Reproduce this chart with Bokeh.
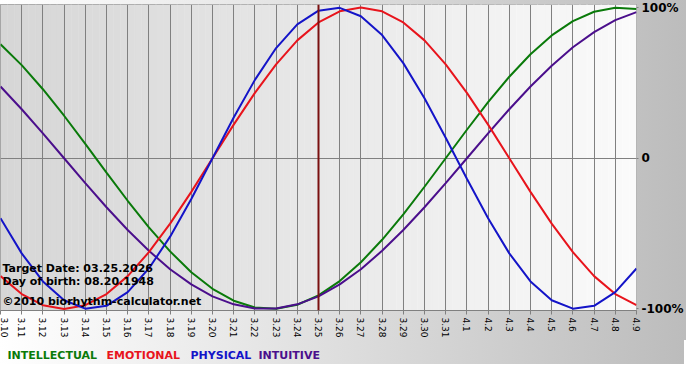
import math
from bokeh.plotting import figure
from bokeh.layouts import column
from bokeh.models import FixedTicker, Label, Span, Range1d
from bokeh.core.properties import value
from bokeh.embed import file_html
from bokeh.resources import INLINE

dates = ["3.10", "3.11", "3.12", "3.13", "3.14", "3.15", "3.16", "3.17", "3.18", "3.19",
         "3.20", "3.21", "3.22", "3.23", "3.24", "3.25", "3.26", "3.27", "3.28", "3.29",
         "3.30", "3.31", "4.1", "4.2", "4.3", "4.4", "4.5", "4.6", "4.7", "4.8", "4.9"]

intellectual = [0.756, 0.618, 0.458, 0.282, 0.095, -0.095, -0.282, -0.458, -0.618, -0.756,
                -0.866, -0.945, -0.990, -0.999, -0.972, -0.910, -0.815, -0.690, -0.541, -0.372,
                -0.189, 0.0, 0.189, 0.372, 0.541, 0.690, 0.815, 0.910, 0.972, 0.999, 0.990]
emotional = [-0.782, -0.901, -0.975, -1.0, -0.975, -0.901, -0.782, -0.623, -0.434, -0.223,
             0.0, 0.223, 0.434, 0.623, 0.782, 0.901, 0.975, 1.0, 0.975, 0.901,
             0.782, 0.623, 0.434, 0.223, 0.0, -0.223, -0.434, -0.623, -0.782, -0.901, -0.975]
physical = [-0.398, -0.631, -0.817, -0.942, -0.998, -0.979, -0.888, -0.731, -0.520, -0.270,
            0.0, 0.270, 0.520, 0.731, 0.888, 0.979, 0.998, 0.942, 0.817, 0.631,
            0.398, 0.136, -0.136, -0.398, -0.631, -0.817, -0.942, -0.998, -0.979, -0.888, -0.731]
intuitive = [0.476, 0.325, 0.165, 0.0, -0.165, -0.325, -0.476, -0.614, -0.736, -0.837,
             -0.916, -0.969, -0.997, -0.997, -0.969, -0.916, -0.837, -0.736, -0.614, -0.476,
             -0.325, -0.165, 0.0, 0.165, 0.325, 0.476, 0.614, 0.736, 0.837, 0.916, 0.969]

y_ticks = [-1, 0, 1]
y_labels = ["-100%", "0", "100%"]
target_date = "3.25"
info_lines = ["Target Date: 03.25.2026", "Day of birth: 08.20.1948", "\u00a92010 biorhythm-calculator.net"]
series_names = ["INTELLECTUAL", "EMOTIONAL", "PHYSICAL", "INTUITIVE"]
colors = ["#0a7a0a", "#e8141c", "#1414c8", "#4b0f8c"]

GRAD = {"background": "linear-gradient(to right, #ffffff 0%, #bcbcbc 100%)"}

x = list(range(len(dates)))
n = len(dates) - 1

p = figure(frame_width=636, frame_height=306, x_range=Range1d(0, n), y_range=Range1d(-1.01, 1.02),
           output_backend="svg", toolbar_location=None, y_axis_location="right",
           min_border_left=0, min_border_top=4, min_border_right=48, min_border_bottom=30)
p.border_fill_alpha = 0
p.styles = GRAD
p.outline_line_color = "#808080"

# background gradient strips inside the frame (drawn below the grid)
N = 90
lefts, rights, cols = [], [], []
for k in range(N):
    f = k / (N - 1)
    c = int(round(214 + (250 - 214) * f))
    lefts.append(n * k / N)
    rights.append(n * (k + 1) / N)
    cols.append("#%02x%02x%02x" % (c, c, c))
bg = p.quad(left=lefts, right=rights, bottom=-2, top=2, fill_color=cols, line_color=cols, line_width=0.5)
bg.level = "image"

# axes
xa = p.xaxis[0]
xa.ticker = FixedTicker(ticks=x)
xa.major_label_overrides = {i: d for i, d in enumerate(dates)}
xa.major_label_orientation = -math.pi / 2
xa.major_label_text_font = "DejaVu Sans"
xa.major_label_text_font_size = "9px"
xa.major_label_text_color = "#000000"
xa.major_tick_out = 4
xa.major_tick_in = 0
xa.minor_tick_line_color = None
xa.major_tick_line_color = "#808080"
xa.axis_line_color = "#808080"
xa.major_label_standoff = 3

ya = p.yaxis[0]
ya.ticker = FixedTicker(ticks=y_ticks)
ya.major_label_overrides = {t: l for t, l in zip(y_ticks, y_labels)}
ya.major_label_text_font = "DejaVu Sans"
ya.major_label_text_font_style = "bold"
ya.major_label_text_font_size = "12px"
ya.major_label_text_color = "#000000"
ya.major_tick_out = 2
ya.major_tick_in = 0
ya.minor_tick_line_color = None
ya.major_tick_line_color = "#808080"
ya.axis_line_color = None
ya.major_label_standoff = 3

p.xgrid.ticker = FixedTicker(ticks=x)
p.xgrid.grid_line_color = "#808080"
p.xgrid.grid_line_alpha = 1
p.ygrid.ticker = FixedTicker(ticks=[0])
p.ygrid.grid_line_color = "#808080"
p.ygrid.grid_line_alpha = 1

p.line(x, intellectual, line_color=colors[0], line_width=2)
p.line(x, intuitive, line_color=colors[3], line_width=2)
p.line(x, emotional, line_color=colors[1], line_width=2)
p.line(x, physical, line_color=colors[2], line_width=2)

p.add_layout(Span(location=dates.index(target_date), dimension="height", line_color="#7a1010", line_width=2))

for txt, yy in zip(info_lines, [42, 29, 9]):
    p.add_layout(Label(x=2, y=yy, x_units="screen", y_units="screen", text=txt,
                       text_font="DejaVu Sans", text_font_size="11px", text_font_style="bold",
                       text_color="#000000", text_baseline="alphabetic"))

# legend strip as its own small figure below the chart
leg = figure(frame_width=684, frame_height=24, x_range=Range1d(0, 684), y_range=Range1d(0, 24),
             output_backend="svg", toolbar_location=None,
             min_border_left=0, min_border_right=0, min_border_top=0, min_border_bottom=0)
leg.xaxis.visible = False
leg.yaxis.visible = False
leg.grid.visible = False
leg.outline_line_color = None
leg.border_fill_alpha = 0
leg.background_fill_alpha = 0
leg.styles = GRAD
leg.text(x=[7, 106, 190, 258], y=[9, 9, 9, 9], text=series_names, text_color=colors,
         text_font=value("DejaVu Sans"), text_font_size="11px", text_font_style="bold",
         text_baseline="alphabetic", text_align="left")

layout = column(p, leg, spacing=0)
open("out.html", "w").write(file_html(layout, INLINE))
